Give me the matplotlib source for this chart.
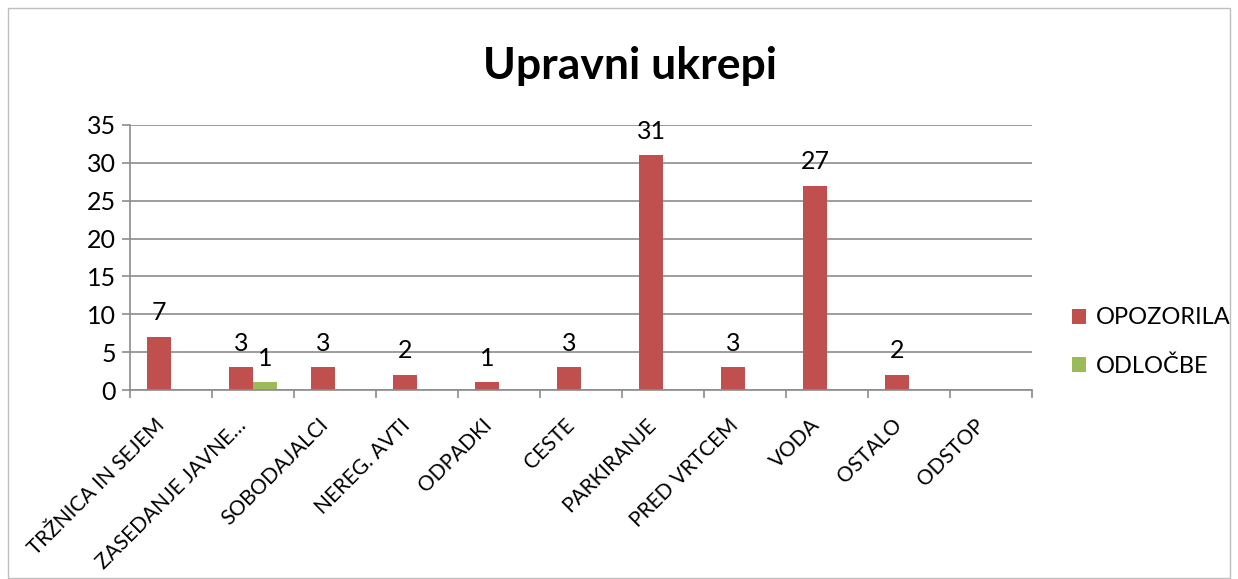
import numpy as np
import matplotlib.pyplot as plt
from matplotlib.patches import Rectangle
from matplotlib.transforms import ScaledTranslation

categories = ['TRŽNICA IN SEJEM', 'ZASEDANJE JAVNE…', 'SOBODAJALCI', 'NEREG. AVTI',
              'ODPADKI', 'CESTE', 'PARKIRANJE', 'PRED VRTCEM', 'VODA', 'OSTALO', 'ODSTOP']
opozorila = [7, 3, 3, 2, 1, 3, 31, 3, 27, 2, 0]
odlocbe = [0, 1, 0, 0, 0, 0, 0, 0, 0, 0, 0]

red = '#C0504D'
green = '#9BBB59'
grid_c = '#8C8C8C'

plt.rcParams['font.family'] = ['Lato', 'DejaVu Sans']

fig = plt.figure(figsize=(12.38, 5.79), dpi=100)
fig.patches.append(Rectangle((8 / 1238, 0.002), 1222 / 1238, 1 - 8 / 579 - 0.002,
                             transform=fig.transFigure, fill=False,
                             edgecolor='#BFBFBF', linewidth=1))

ax = fig.add_axes([130 / 1238, 1 - 390 / 579, 902 / 1238, 265 / 579])

x = np.arange(len(categories))
w = 0.29
b1 = ax.bar(x - w / 2, opozorila, w, color=red, label='OPOZORILA')
b2 = ax.bar(x + w / 2, odlocbe, w, color=green, label='ODLOČBE')

for bars in (b1, b2):
    for r in bars:
        h = r.get_height()
        if h > 0:
            ax.annotate(f'{h:g}', (r.get_x() + r.get_width() / 2, h),
                        xytext=(0, 9), textcoords='offset points',
                        ha='center', va='bottom', fontsize=18)

ax.set_xlim(-0.5, len(categories) - 0.5)
ax.set_ylim(0, 35)
ax.set_yticks(range(0, 36, 5))
ax.yaxis.grid(True, color=grid_c, linewidth=1.2)
ax.set_axisbelow(True)

ax.set_xticks(x)
ax.set_xticklabels(categories, rotation=45, ha='right', rotation_mode='anchor', fontsize=15)
ax.tick_params(axis='x', length=0, pad=18)
shift = ScaledTranslation(-0.17, 0, fig.dpi_scale_trans)
for lab in ax.get_xticklabels():
    lab.set_transform(lab.get_transform() + shift)
ax.set_xticks(np.arange(-0.5, len(categories)), minor=True)
ax.tick_params(axis='x', which='minor', length=6, color=grid_c, width=1.2)
ax.tick_params(axis='y', length=6, color=grid_c, width=1.2, labelsize=18, pad=4)

for s in ('top', 'right'):
    ax.spines[s].set_visible(False)
for s in ('left', 'bottom'):
    ax.spines[s].set_color(grid_c)
    ax.spines[s].set_linewidth(1.2)

fig.text(630 / 1238, 1 - 66 / 579, 'Upravni ukrepi', ha='center', va='center',
         fontsize=32, fontweight='bold')

ax.legend(loc='center left', bbox_to_anchor=(1.021, 0.18), frameon=False,
          fontsize=17, handlelength=0.6, handleheight=0.6, labelspacing=1.15,
          handletextpad=0.4)

fig.savefig('out.png', dpi=100)
